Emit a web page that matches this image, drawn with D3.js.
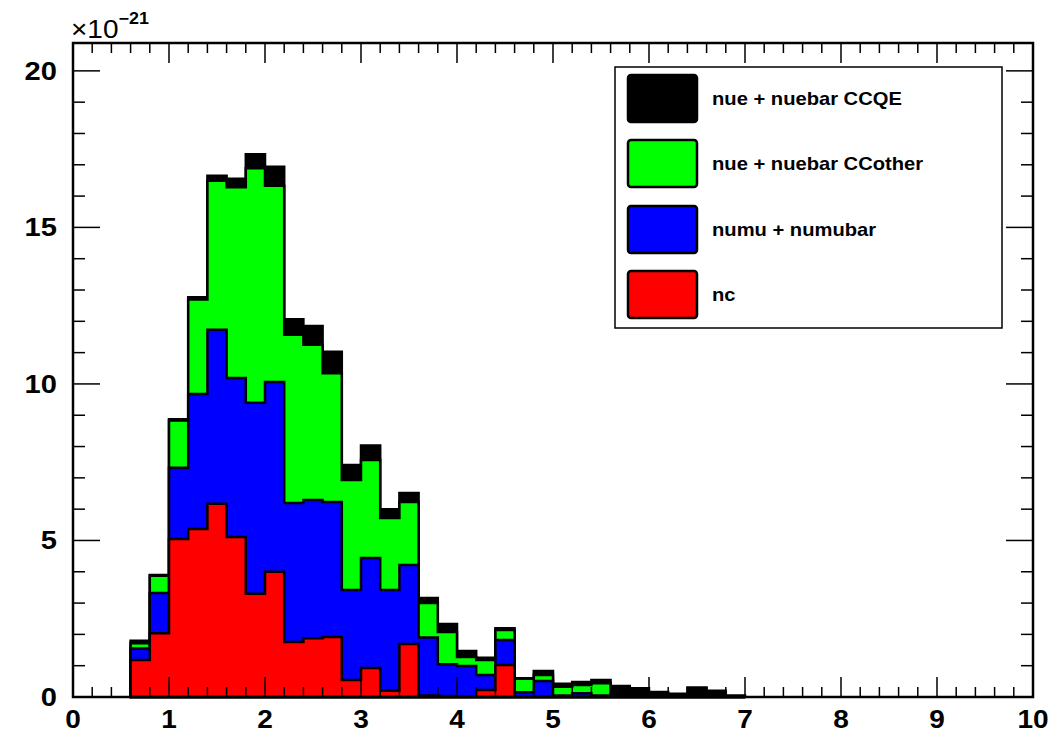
<!DOCTYPE html>
<html>
<head>
<meta charset="utf-8">
<script src="https://cdn.jsdelivr.net/npm/d3@7"></script>
<style>
  html, body { margin: 0; padding: 0; background: #ffffff; }
  svg { display: block; }
  text { font-family: "Liberation Sans", Arial, Helvetica, sans-serif; }
</style>
</head>
<body>
<svg id="chart" width="1056" height="734"></svg>
<script>
// ---- data (values in units of 1e-21) ----
const binLow = [0.6,0.8,1.0,1.2,1.4,1.6,1.8,2.0,2.2,2.4,2.6,2.8,3.0,3.2,3.4,3.6,3.8,4.0,4.2,4.4,4.6,4.8,5.0,5.2,5.4,5.6,5.8,6.0,6.2,6.4,6.6,6.8];
const binWidth = 0.2;
const nc      = [1.18,2.04,5.05,5.37,6.17,5.11,3.30,4.00,1.76,1.88,1.92,0.54,0.93,0.20,1.69,0.05,0.03,0.00,0.22,1.02,0,0,0,0,0,0,0,0,0,0,0,0];
const numu    = [0.37,1.28,2.27,4.31,5.56,5.08,6.10,6.06,4.44,4.41,4.31,2.88,3.51,3.22,2.53,1.85,1.02,0.99,0.48,0.80,0.15,0.51,0.05,0.12,0.05,0,0,0,0,0,0,0];
const ccother = [0.17,0.55,1.51,3.02,4.76,6.09,7.49,6.27,5.37,4.96,4.11,3.51,3.13,2.30,2.01,1.10,1.03,0.29,0.48,0.32,0.43,0.19,0.28,0.26,0.39,0.02,0,0,0,0,0,0];
const ccqe    = [0.08,0.03,0.04,0.07,0.16,0.27,0.45,0.61,0.50,0.60,0.69,0.48,0.46,0.28,0.29,0.16,0.25,0.19,0.07,0.06,0.02,0.13,0.09,0.10,0.10,0.33,0.28,0.16,0.10,0.30,0.20,0.05];
const seriesNames  = ["nue + nuebar CCQE", "nue + nuebar CCother", "numu + numubar", "nc"];
const seriesColors = ["#000000", "#00ff00", "#0000ff", "#ff0000"];
const xTicks = [0,1,2,3,4,5,6,7,8,9,10];
const yTicks = [0,5,10,15,20];
const xDomain = [0, 10];
const yDomain = [0, 20.89];

// ---- layout ----
const svg = d3.select("#chart");
const L = 73, R = 1033, T = 43, B = 697;
const SX = 1.12; // horizontal text stretch of the original picture
const x = d3.scaleLinear().domain(xDomain).range([L, R]);
const y = d3.scaleLinear().domain(yDomain).range([B, T]);

// stacked cumulative layers (bottom -> top): nc, numu, ccother, ccqe
const layersBottomUp = [nc, numu, ccother, ccqe];
const colorsBottomUp = ["#ff0000", "#0000ff", "#00ff00", "#000000"];
const cum = [];
layersBottomUp.forEach((arr, k) => {
  cum.push(arr.map((v, i) => v + (k > 0 ? cum[k-1][i] : 0)));
});

const area = d3.area()
  .curve(d3.curveStepAfter)
  .x(d => x(d.x))
  .y0(y(0))
  .y1(d => y(d.v));

// draw from top of stack down
for (let k = cum.length - 1; k >= 0; k--) {
  const pts = binLow.map((b, i) => ({x: b, v: cum[k][i]}));
  pts.push({x: binLow[binLow.length-1] + binWidth, v: cum[k][cum[k].length-1]});
  svg.append("path")
    .attr("d", area(pts))
    .attr("fill", colorsBottomUp[k])
    .attr("stroke", "#000")
    .attr("stroke-width", 2.5)
    .attr("stroke-linejoin", "miter");
}

// ---- frame ----
svg.append("rect")
  .attr("x", L).attr("y", T).attr("width", R - L).attr("height", B - T)
  .attr("fill", "none").attr("stroke", "#000").attr("stroke-width", 2.5);

// ---- ticks ----
const tickG = svg.append("g").attr("stroke", "#000").attr("stroke-width", 1.5);
for (let i = 0; i <= 50; i++) {
  const v = i * 0.2;
  const major = i % 5 === 0;
  const len = major ? 20 : 10;
  const px = x(v);
  tickG.append("line").attr("x1", px).attr("x2", px).attr("y1", B).attr("y2", B - len);
  tickG.append("line").attr("x1", px).attr("x2", px).attr("y1", T).attr("y2", T + len);
}
for (let v = 0; v <= 20; v++) {
  const major = v % 5 === 0;
  const len = major ? 27 : 12;
  const py = y(v);
  tickG.append("line").attr("x1", L).attr("x2", L + len).attr("y1", py).attr("y2", py);
  tickG.append("line").attr("x1", R).attr("x2", R - len).attr("y1", py).attr("y2", py);
}

// ---- tick labels ----
xTicks.forEach(v => {
  svg.append("text")
    .attr("transform", `translate(${x(v)},${728}) scale(${SX},1)`)
    .attr("text-anchor", "middle")
    .attr("font-size", 25).attr("font-weight", "bold")
    .attr("fill", "#000")
    .text(v);
});
yTicks.forEach(v => {
  svg.append("text")
    .attr("transform", `translate(${57},${y(v) + 9}) scale(${SX},1)`)
    .attr("text-anchor", "end")
    .attr("font-size", 26).attr("font-weight", "bold")
    .attr("fill", "#000")
    .text(v);
});

// exponent label
const ex = svg.append("text")
  .attr("transform", `translate(${71},${38}) scale(${SX},1)`)
  .attr("font-size", 25).attr("fill", "#000");
ex.append("tspan").text("×10");
ex.append("tspan").attr("font-size", 16).attr("font-weight", "bold").attr("dy", -14).text("−21");

// ---- legend ----
const lg = svg.append("g");
lg.append("rect")
  .attr("x", 615).attr("y", 67).attr("width", 387).attr("height", 261)
  .attr("fill", "#fff").attr("stroke", "#000").attr("stroke-width", 1.5);
const rowY = [75, 140, 206, 271];
seriesNames.forEach((name, i) => {
  lg.append("rect")
    .attr("x", 628).attr("y", rowY[i]).attr("width", 69).attr("height", 47)
    .attr("rx", 3).attr("ry", 3)
    .attr("fill", seriesColors[i]).attr("stroke", "#000").attr("stroke-width", 2.5);
  lg.append("text")
    .attr("transform", `translate(${712},${rowY[i] + 30}) scale(${SX},1)`)
    .attr("font-size", 18).attr("font-weight", "bold").attr("fill", "#000")
    .text(name);
});
</script>
</body>
</html>
